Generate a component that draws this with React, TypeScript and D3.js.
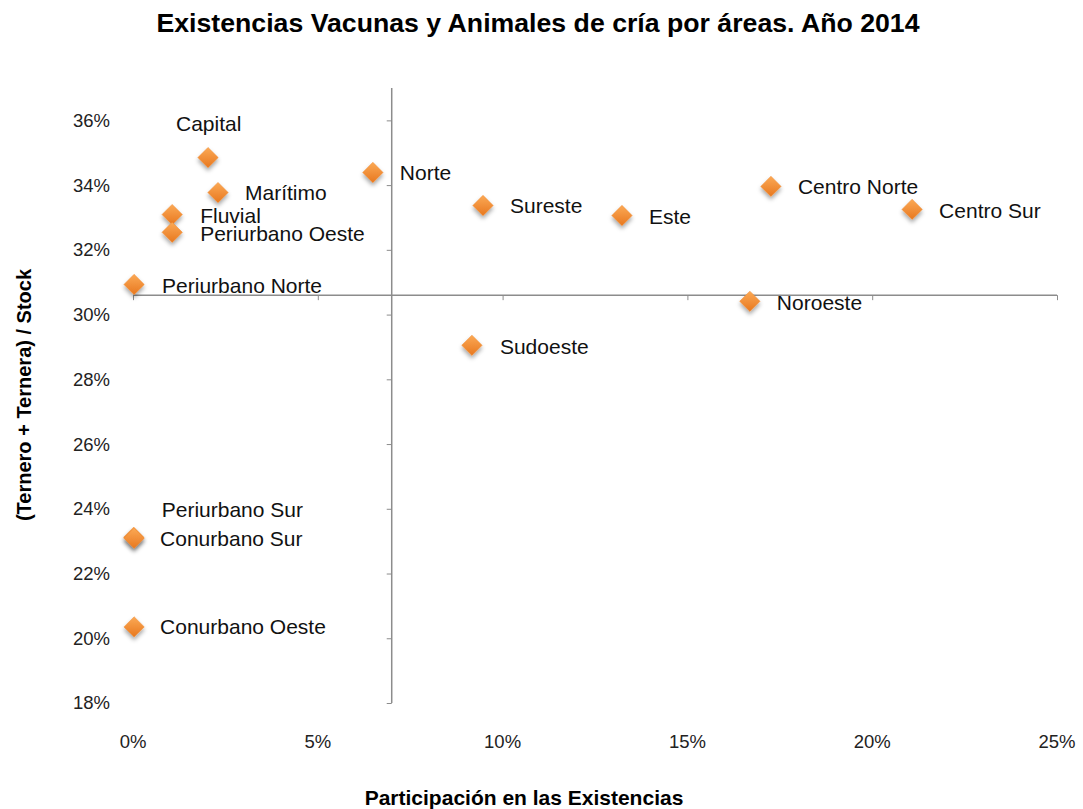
import React, { useEffect, useRef } from 'react';
import * as d3 from 'd3';

const areas = ['Capital', 'Marítimo', 'Fluvial', 'Periurbano Oeste', 'Periurbano Norte', 'Norte', 'Sureste', 'Este', 'Centro Norte', 'Centro Sur', 'Noroeste', 'Sudoeste', 'Periurbano Sur', 'Conurbano Sur', 'Conurbano Oeste'];
const participacion = [2.03, 2.3, 1.06, 1.06, 0.03, 6.49, 9.47, 13.23, 17.26, 21.08, 16.69, 9.17, 0.02, 0.03, 0.03];
const cria = [34.85, 33.77, 33.09, 32.54, 30.93, 34.39, 33.37, 33.06, 33.96, 33.25, 30.41, 29.05, 23.12, 23.09, 20.35];
// label offsets (dx, dy) relative to the marker
const labelDx = [-32, 27, 28, 28, 28, 27, 27, 27, 27, 27, 27, 28, 28, 26, 26];
const labelDy = [-34, 0, 1, 1, 1, 0, 0, 1, 0, 1, 1, 1, -28, 0, 0];
const xTicks = [0, 5, 10, 15, 20, 25];
const yTicks = [18, 20, 22, 24, 26, 28, 30, 32, 34, 36];

const W = 1083;
const H = 809;

const App = () => {
  const svgRef = useRef<SVGSVGElement>(null);

  useEffect(() => {
    const svg = d3.select(svgRef.current);
    svg.selectAll('*').remove();

    const x = d3.scaleLinear().domain([0, 25]).range([133, 1057]);
    const y = d3.scaleLinear().domain([18, 37]).range([703, 88]);
    const font = '"Liberation Sans", Arial, sans-serif';

    const defs = svg.append('defs');
    const grad = defs.append('linearGradient').attr('id', 'dia').attr('x1', 0).attr('y1', 0).attr('x2', 0).attr('y2', 1);
    grad.append('stop').attr('offset', '0%').attr('stop-color', '#fba955');
    grad.append('stop').attr('offset', '100%').attr('stop-color', '#e8781f');
    const flt = defs.append('filter').attr('id', 'shadow').attr('x', '-50%').attr('y', '-50%').attr('width', '200%').attr('height', '200%');
    flt.append('feDropShadow').attr('dx', 0).attr('dy', 3).attr('stdDeviation', 2).attr('flood-color', '#000').attr('flood-opacity', 0.35);

    svg.append('text')
      .attr('x', 538).attr('y', 32)
      .attr('text-anchor', 'middle')
      .attr('font-family', font).attr('font-weight', 'bold').attr('font-size', 26)
      .attr('textLength', 763).attr('lengthAdjust', 'spacingAndGlyphs')
      .text('Existencias Vacunas y Animales de cría por áreas. Año 2014');

    const crossX = x(7);
    const crossY = y(30.6);

    // horizontal axis
    const hAxis = svg.append('g').attr('transform', `translate(0,${crossY})`)
      .call(d3.axisBottom(x).tickValues(xTicks).tickSize(5).tickFormat(() => ''));
    hAxis.select('.domain').attr('stroke', '#8c8c8c').attr('stroke-width', 1.5).attr('d', `M${x(0)},0H${x(25)}`);
    hAxis.selectAll('line').attr('stroke', '#8c8c8c');

    // vertical axis
    const vAxis = svg.append('g').attr('transform', `translate(${crossX},0)`)
      .call(d3.axisLeft(y).tickValues(yTicks).tickSize(5).tickFormat(() => ''));
    vAxis.select('.domain').attr('stroke', '#8c8c8c').attr('stroke-width', 1.5).attr('d', `M0,${y(37)}V${y(18)}`);
    vAxis.selectAll('line').attr('stroke', '#8c8c8c');

    // tick labels at the chart edges
    svg.append('g').selectAll('text').data(yTicks).enter().append('text')
      .attr('x', 110).attr('y', d => y(d)).attr('dy', '0.35em')
      .attr('text-anchor', 'end')
      .attr('font-family', font).attr('font-size', 18.5).attr('fill', '#222')
      .text(d => `${d}%`);
    svg.append('g').selectAll('text').data(xTicks).enter().append('text')
      .attr('x', d => x(d)).attr('y', 748)
      .attr('text-anchor', 'middle')
      .attr('font-family', font).attr('font-size', 18.5).attr('fill', '#222')
      .text(d => `${d}%`);

    svg.append('text')
      .attr('x', 524).attr('y', 805)
      .attr('text-anchor', 'middle')
      .attr('font-family', font).attr('font-weight', 'bold').attr('font-size', 21)
      .text('Participación en las Existencias');
    svg.append('text')
      .attr('transform', `translate(31,395) rotate(-90)`)
      .attr('text-anchor', 'middle')
      .attr('font-family', font).attr('font-weight', 'bold').attr('font-size', 20)
      .text('(Ternero + Ternera) / Stock');

    const sym = d3.symbol().type(d3.symbolDiamond2).size(264);
    const idx = d3.range(areas.length);

    svg.append('g').selectAll('path').data(idx).enter().append('path')
      .attr('d', sym)
      .attr('transform', i => `translate(${x(participacion[i])},${y(cria[i])})`)
      .attr('fill', 'url(#dia)')
      .attr('stroke', '#f08a30').attr('stroke-width', 0.5)
      .attr('filter', 'url(#shadow)');

    svg.append('g').selectAll('text').data(idx).enter().append('text')
      .attr('x', i => x(participacion[i]) + labelDx[i])
      .attr('y', i => y(cria[i]) + labelDy[i])
      .attr('dy', '0.35em')
      .attr('font-family', font).attr('font-size', 21).attr('fill', '#111')
      .text(i => areas[i]);
  }, []);

  return (
    <svg ref={svgRef} width={W} height={H} style={{ position: 'absolute', left: 0, top: 0, background: '#fff' }} />
  );
};

export default App;
